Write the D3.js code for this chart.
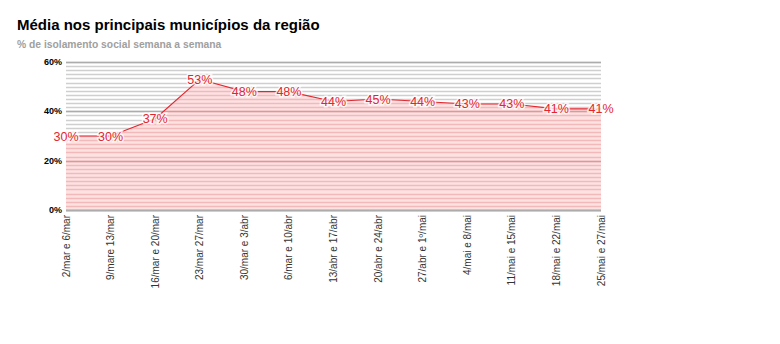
<!DOCTYPE html>
<html>
<head>
<meta charset="utf-8">
<script src="https://cdnjs.cloudflare.com/ajax/libs/d3/7.8.5/d3.min.js"></script>
<style>
  body { margin: 0; background: #fff; }
  text { font-family: Arial, "Liberation Sans", sans-serif; }
</style>
</head>
<body>
<script>
var weeks = ["2/mar e 6/mar", "9/mare 13/mar", "16/mar e 20/mar", "23/mar 27/mar",
  "30/mar e 3/abr", "6/mar e 10/abr", "13/abr e 17/abr", "20/abr e 24/abr",
  "27/abr e 1\u00ba/mai", "4/mai e 8/mai", "11/mai e 15/mai", "18/mai e 22/mai", "25/mai e 27/mai"]
var isolamento = [30, 30, 37, 53, 48, 48, 44, 45, 44, 43, 43, 41, 41]
var yTicks = [0, 20, 40, 60]

var lineColor = '#e3262e'

var svg = d3.select("body").append("svg")
  .attr("width", 780)
  .attr("height", 344)

svg.append("text")
  .attr("x", 17).attr("y", 30)
  .attr("font-size", 15).attr("font-weight", "bold")
  .attr("fill", "#000")
  .text("Média nos principais municípios da região")

svg.append("text")
  .attr("x", 17).attr("y", 48)
  .attr("font-size", 10.3).attr("font-weight", "bold")
  .attr("fill", "#a0a0a0")
  .text("% de isolamento social semana a semana")

var x = d3.scalePoint().domain(weeks).range([66, 601])
var y = d3.scaleLinear().domain([0, 60]).range([210, 62])

var area = d3.area()
  .x(function(d, i){ return x(weeks[i]) })
  .y0(y(0))
  .y1(function(d){ return y(d) })

svg.append("clipPath").attr("id", "under")
  .append("path")
  .datum(isolamento)
  .attr("d", area)

// minor gridlines (12 per 20%)
var minor = d3.range(0, 60.01, 20 / 12)

function grid(g, minorColor, majorColor) {
  g.selectAll("line.minor")
    .data(minor)
    .enter()
    .append("line")
    .attr("class", "minor")
    .attr("x1", 66).attr("x2", 601)
    .attr("y1", function(d){ return Math.round(y(d)) + 0.5 })
    .attr("y2", function(d){ return Math.round(y(d)) + 0.5 })
    .attr("stroke", minorColor)
    .attr("stroke-width", 1.4)

  g.selectAll("line.major")
    .data(yTicks)
    .enter()
    .append("line")
    .attr("class", "major")
    .attr("x1", 66).attr("x2", 601)
    .attr("y1", function(d){ return Math.round(y(d)) + 0.5 })
    .attr("y2", function(d){ return Math.round(y(d)) + 0.5 })
    .attr("stroke", majorColor)
    .attr("stroke-width", function(d){ return d === 0 ? 2 : 1.4 })
}

grid(svg.append("g"), "#cfcfcf", "#acacac")

svg.append("path")
  .datum(isolamento)
  .attr("d", area)
  .attr("fill", "#fde2e2")

grid(svg.append("g").attr("clip-path", "url(#under)"), "#f3b8ba", "#d99a9c")

svg.selectAll("text.ylab")
  .data(yTicks)
  .enter()
  .append("text")
  .attr("class", "ylab")
  .attr("x", 62)
  .attr("y", function(d){ return y(d) + 3 })
  .attr("text-anchor", "end")
  .attr("font-size", 9).attr("font-weight", "bold")
  .text(function(d){ return d + "%" })

var line = d3.line()
  .x(function(d, i){ return x(weeks[i]) })
  .y(function(d){ return y(d) })

svg.append("path")
  .datum(isolamento)
  .attr("d", line)
  .attr("fill", "none")
  .attr("stroke", lineColor)
  .attr("stroke-width", 1.1)

svg.selectAll("text.vlab")
  .data(isolamento)
  .enter()
  .append("text")
  .attr("class", "vlab")
  .attr("x", function(d, i){ return x(weeks[i]) })
  .attr("y", function(d){ return y(d) + 4.5 })
  .attr("text-anchor", "middle")
  .attr("font-size", 12.5)
  .attr("fill", lineColor)
  .attr("stroke", "#fff")
  .attr("stroke-width", 3)
  .attr("stroke-opacity", 0.8)
  .attr("paint-order", "stroke")
  .text(function(d){ return d + "%" })

svg.selectAll("text.xlab")
  .data(weeks)
  .enter()
  .append("text")
  .attr("class", "xlab")
  .attr("transform", function(d){ return "translate(" + (x(d) + 3.5) + ",215) rotate(-90)" })
  .attr("text-anchor", "end")
  .attr("font-size", 10)
  .attr("fill", "#333")
  .text(function(d){ return d })
</script>
</body>
</html>
